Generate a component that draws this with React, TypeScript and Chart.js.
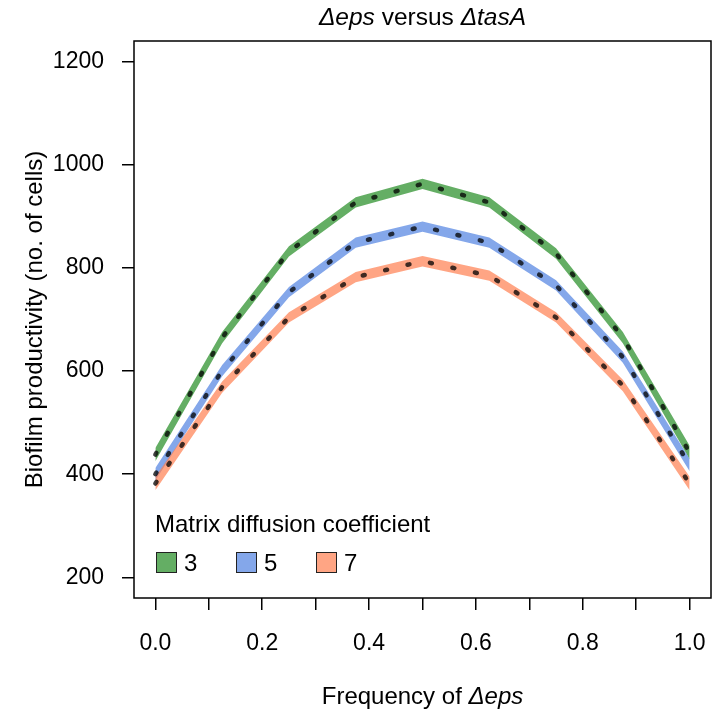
import React, { useEffect, useRef } from "react";
import { Chart, registerables } from "chart.js";

Chart.register(...registerables);

// ---- data ----
const frequencies = [0, 0.125, 0.25, 0.375, 0.5, 0.625, 0.75, 0.875, 1];
const seriesNames = ["3", "5", "7"];

const meanD3 = [438, 665, 832, 927, 963, 927, 828, 665, 442];
const upperD3 = [451, 676, 842, 937, 973, 937, 838, 676, 455];
const lowerD3 = [425, 654, 822, 917, 953, 917, 818, 654, 429];

const meanD5 = [400, 601, 753, 849, 880, 849, 766, 627, 418];
const upperD5 = [412, 612, 763, 859, 890, 859, 776, 638, 430];
const lowerD5 = [388, 590, 743, 839, 870, 839, 756, 616, 406];

const meanD7 = [382, 569, 704, 782, 813, 785, 704, 572, 382];
const upperD7 = [395, 580, 714, 792, 823, 795, 714, 583, 395];
const lowerD7 = [369, 558, 694, 772, 803, 775, 694, 561, 369];

const xTickValues = [0, 0.1, 0.2, 0.3, 0.4, 0.5, 0.6, 0.7, 0.8, 0.9, 1.0];
const xTickLabels = ["0.0", "", "0.2", "", "0.4", "", "0.6", "", "0.8", "", "1.0"];
const yTickValues = [200, 400, 600, 800, 1000, 1200];

const colors = ["rgba(34,139,34,0.7)", "rgba(80,130,225,0.7)", "rgba(255,127,80,0.7)"];

const FONT = "'Liberation Sans', Arial, Helvetica, sans-serif";

const pts = (ys: number[]) => frequencies.map((x, i) => ({ x, y: ys[i] }));

function drawMixed(ctx: CanvasRenderingContext2D, parts: { t: string; i: boolean }[], cx: number, cy: number, size: number) {
  const fontOf = (it: boolean) => `${it ? "italic " : ""}${size}px ${FONT}`;
  let total = 0;
  for (const p of parts) {
    ctx.font = fontOf(p.i);
    total += ctx.measureText(p.t).width;
  }
  let x = cx - total / 2;
  ctx.textAlign = "left";
  ctx.textBaseline = "middle";
  for (const p of parts) {
    ctx.font = fontOf(p.i);
    ctx.fillText(p.t, x, cy);
    x += ctx.measureText(p.t).width;
  }
}

const decorPlugin = {
  id: "decor",
  afterDraw(chart: any) {
    const { ctx, chartArea } = chart;
    const { left, right, top, bottom } = chartArea;
    ctx.save();
    // box
    ctx.strokeStyle = "#000";
    ctx.lineWidth = 1.5;
    ctx.strokeRect(left, top, right - left, bottom - top);
    ctx.fillStyle = "#000";
    // title
    drawMixed(ctx, [{ t: "Δeps", i: true }, { t: " versus ", i: false }, { t: "ΔtasA", i: true }], (left + right) / 2, 18, 24.5);
    // x title
    drawMixed(ctx, [{ t: "Frequency of ", i: false }, { t: "Δeps", i: true }], (left + right) / 2, 697, 24);
    // y title
    ctx.save();
    ctx.translate(35, (top + bottom) / 2);
    ctx.rotate(-Math.PI / 2);
    drawMixed(ctx, [{ t: "Biofilm productivity (no. of cells)", i: false }], 0, 0, 24);
    ctx.restore();
    // legend
    ctx.font = `24px ${FONT}`;
    ctx.textAlign = "left";
    ctx.textBaseline = "middle";
    ctx.fillText("Matrix diffusion coefficient", 155, 525);
    seriesNames.forEach((name, i) => {
      const bx = 156 + i * 80;
      const by = 552;
      ctx.fillStyle = "#fff";
      ctx.fillRect(bx, by, 21, 21);
      ctx.fillStyle = colors[i];
      ctx.fillRect(bx, by, 21, 21);
      ctx.strokeStyle = "#222";
      ctx.lineWidth = 1;
      ctx.strokeRect(bx + 0.5, by + 0.5, 20, 20);
      ctx.fillStyle = "#000";
      ctx.fillText(name, bx + 28, by + 12);
    });
    ctx.restore();
  },
};

export default function App() {
  const ref = useRef<HTMLCanvasElement | null>(null);
  useEffect(() => {
    if (!ref.current) return;
    const bands = [
      [upperD3, lowerD3, meanD3],
      [upperD5, lowerD5, meanD5],
      [upperD7, lowerD7, meanD7],
    ];
    const datasets: any[] = [];
    bands.forEach(([up, lo], i) => {
      const loIndex = datasets.length;
      datasets.push({
        label: `lower ${seriesNames[i]}`,
        data: pts(lo),
        borderWidth: 0,
        borderColor: "transparent",
        pointRadius: 0,
        fill: false,
        order: 20 - i,
      });
      datasets.push({
        label: `upper ${seriesNames[i]}`,
        data: pts(up),
        borderWidth: 0,
        borderColor: "transparent",
        backgroundColor: colors[i],
        pointRadius: 0,
        fill: { target: loIndex },
        order: 20 - i,
      });
    });
    bands.forEach(([, , mean], i) => {
      datasets.push({
        label: `mean ${seriesNames[i]}`,
        data: pts(mean),
        borderColor: "rgba(0,0,0,0.75)",
        borderWidth: 4.5,
        borderDash: [2, 21],
        borderCapStyle: "round",
        pointRadius: 0,
        fill: false,
        order: 5 - i,
      });
    });

    const tickFont = { family: FONT, size: 23 };
    const chart = new Chart(ref.current, {
      type: "line",
      data: { datasets },
      plugins: [decorPlugin],
      options: {
        responsive: false,
        animation: false,
        events: [],
        layout: { padding: { top: 41, right: 1, left: 0, bottom: 0 } },
        elements: { line: { tension: 0 } },
        plugins: {
          legend: { display: false },
          tooltip: { enabled: false },
          title: { display: false },
        },
        scales: {
          x: {
            type: "linear",
            min: -0.04,
            max: 1.04,
            afterBuildTicks: (s: any) => {
              s.ticks = xTickValues.map((v) => ({ value: v }));
            },
            afterFit: (s: any) => {
              s.height = 119;
              s.paddingLeft = 0;
              s.paddingRight = 0;
            },
            ticks: {
              autoSkip: false,
              maxRotation: 0,
              minRotation: 0,
              padding: 20,
              color: "#000",
              font: tickFont,
              callback: (_v: any, idx: number) => xTickLabels[idx],
            },
            grid: { drawOnChartArea: false, drawTicks: true, tickLength: 12, color: "#000", lineWidth: 1.5 },
            border: { display: false },
          },
          y: {
            type: "linear",
            min: 160,
            max: 1240,
            afterBuildTicks: (s: any) => {
              s.ticks = yTickValues.map((v) => ({ value: v }));
            },
            afterFit: (s: any) => {
              s.width = 134;
              s.paddingTop = 0;
              s.paddingBottom = 0;
            },
            ticks: {
              autoSkip: false,
              padding: 18,
              color: "#000",
              font: tickFont,
              callback: (v: any) => String(v),
            },
            grid: { drawOnChartArea: false, drawTicks: true, tickLength: 12, color: "#000", lineWidth: 1.5 },
            border: { display: false },
          },
        },
      } as any,
    });
    return () => chart.destroy();
  }, []);

  return (
    <div style={{ position: "fixed", left: 0, top: 0, width: 712, height: 717, background: "#fff" }}>
      <canvas ref={ref} width={712} height={717} style={{ display: "block", width: 712, height: 717 }} />
    </div>
  );
}
